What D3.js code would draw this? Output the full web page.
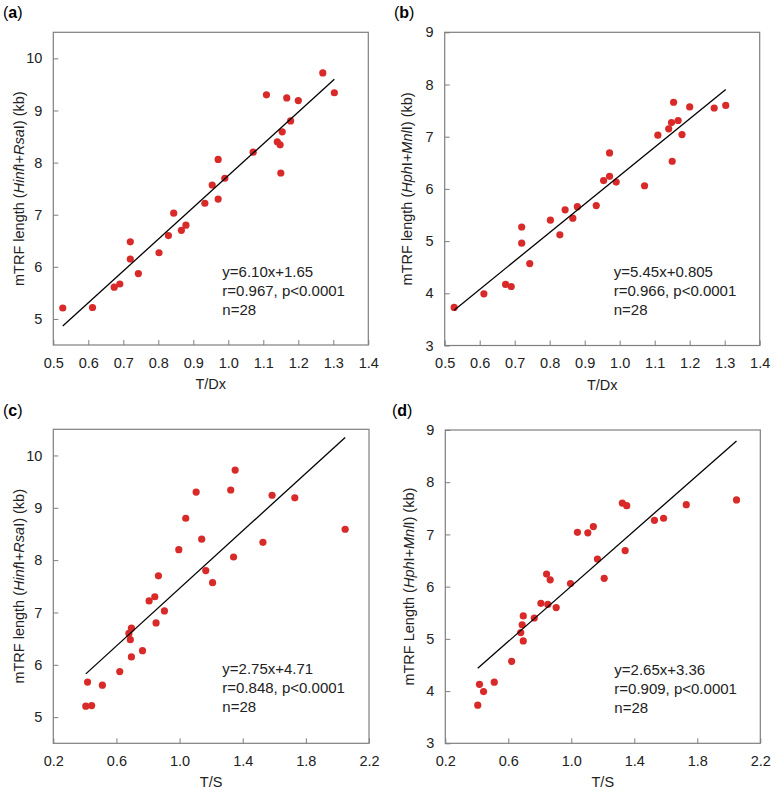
<!DOCTYPE html>
<html>
<head>
<meta charset="utf-8">
<script src="https://cdn.jsdelivr.net/npm/d3@7"></script>
<style>
  html, body { margin: 0; padding: 0; background: #fff; }
  svg { display: block; font-family: Arial, "Liberation Sans", sans-serif; }
</style>
</head>
<body>
<svg id="chart" width="776" height="794"></svg>
<script>
// ---- data (28 samples) ----
const tdRatio = [0.527, 0.612, 0.674, 0.690, 0.720, 0.720, 0.743, 0.802, 0.829, 0.844, 0.866, 0.879, 0.933, 0.954,
                 0.971, 0.971, 0.990, 1.071, 1.109, 1.140, 1.148, 1.150, 1.154, 1.167, 1.178, 1.200, 1.270, 1.303];
const tsRatio = [0.406, 0.443, 0.511, 0.417, 0.695, 0.688, 0.621, 0.765, 0.679, 0.904, 0.695, 0.851, 0.807, 1.209,
                 0.843, 1.342, 0.866, 0.995, 1.105, 1.140, 1.528, 1.166, 2.049, 1.586, 1.039, 1.730, 1.352, 1.324];
const hinfRsa  = [5.21, 5.22, 5.61, 5.67, 6.15, 6.48, 5.87, 6.27, 6.60, 7.03, 6.70, 6.80, 7.22, 7.57,
                  7.30, 8.06, 7.70, 8.20, 9.30, 8.40, 8.34, 7.80, 8.59, 9.24, 8.80, 9.19, 9.72, 9.34];
const hphMnl   = [3.73, 3.99, 4.17, 4.13, 4.96, 5.27, 4.57, 5.40, 5.12, 5.60, 5.44, 5.66, 5.68, 6.16,
                  6.24, 6.69, 6.13, 6.06, 7.03, 7.15, 7.27, 6.53, 7.66, 7.31, 7.04, 7.57, 7.55, 7.60];

const ticksTD = [0.5, 0.6, 0.7, 0.8, 0.9, 1.0, 1.1, 1.2, 1.3, 1.4];
const ticksTS = [0.2, 0.6, 1.0, 1.4, 1.8, 2.2];
const ticksHR = [5, 6, 7, 8, 9, 10];
const ticksHM = [3, 4, 5, 6, 7, 8, 9];

const panelLetters = ["a", "b", "c", "d"];
const fitSlopes     = [6.10, 5.45, 2.75, 2.65];
const fitIntercepts = [1.65, 0.805, 4.71, 3.36];
const fitText = [
  ["y=6.10x+1.65", "r=0.967, p<0.0001", "n=28"],
  ["y=5.45x+0.805", "r=0.966, p<0.0001", "n=28"],
  ["y=2.75x+4.71", "r=0.848, p<0.0001", "n=28"],
  ["y=2.65x+3.36", "r=0.909, p<0.0001", "n=28"]
];
const xTitles = ["T/Dx", "T/Dx", "T/S", "T/S"];
// y titles: [text, italic?] pieces
const yTitles = [
  [["mTRF length (", false], ["Hinf", true], ["I+", false], ["Rsa", true], ["I) (kb)", false]],
  [["mTRF length (", false], ["Hph", true], ["I+", false], ["Mnl", true], ["I) (kb)", false]],
  [["mTRF length (", false], ["Hinf", true], ["I+", false], ["Rsa", true], ["I) (kb)", false]],
  [["mTRF Length (", false], ["Hph", true], ["I+", false], ["Mnl", true], ["I) (kb)", false]]
];

// ---- layout ----
const panels = [
  { xs: tdRatio, ys: hinfRsa, xDom: [0.5, 1.4], yDom: [4.5, 10.5], xt: ticksTD, yt: ticksHR, fmt: d3.format(".1f"),
    left: 53.3, right: 368.3, top: 32.3, bottom: 345, titleX: 3, titleY: 18, yTitleX: 24 },
  { xs: tdRatio, ys: hphMnl, xDom: [0.5, 1.4], yDom: [3, 9], xt: ticksTD, yt: ticksHM, fmt: d3.format(".1f"),
    left: 444.7, right: 759.7, top: 32.3, bottom: 345.5, titleX: 394, titleY: 18, yTitleX: 412 },
  { xs: tsRatio, ys: hinfRsa, xDom: [0.2, 2.2], yDom: [4.5, 10.5], xt: ticksTS, yt: ticksHR, fmt: d3.format(".1f"),
    left: 53.3, right: 369, top: 429.3, bottom: 743.3, titleX: 3, titleY: 416, yTitleX: 24 },
  { xs: tsRatio, ys: hphMnl, xDom: [0.2, 2.2], yDom: [3, 9], xt: ticksTS, yt: ticksHM, fmt: d3.format(".1f"),
    left: 445.3, right: 760.3, top: 430, bottom: 743.3, titleX: 392, titleY: 416, yTitleX: 414 }
];

const svg = d3.select("#chart");
const frameColor = "#7f7f7f";
const textColor = "#222";
const dotColor = "#d92a2a";

panels.forEach((p, i) => {
  const x = d3.scaleLinear().domain(p.xDom).range([p.left, p.right]);
  const y = d3.scaleLinear().domain(p.yDom).range([p.bottom, p.top]);
  const g = svg.append("g");

  // frame
  g.append("rect")
    .attr("x", p.left).attr("y", p.top)
    .attr("width", p.right - p.left).attr("height", p.bottom - p.top)
    .attr("fill", "none").attr("stroke", frameColor).attr("stroke-width", 1.2);

  // x axis (inward ticks)
  const xa = g.append("g").attr("transform", `translate(0,${p.bottom})`)
    .call(d3.axisBottom(x).tickValues(p.xt).tickFormat(p.fmt).tickSizeInner(-5).tickSizeOuter(0).tickPadding(12.5));
  xa.select(".domain").remove();
  xa.selectAll("line").attr("stroke", frameColor);
  xa.selectAll("text").attr("fill", textColor).style("font-size", "14.5px");

  // y axis (inward ticks)
  const ya = g.append("g").attr("transform", `translate(${p.left},0)`)
    .call(d3.axisLeft(y).tickValues(p.yt).tickFormat(d3.format("d")).tickSizeInner(-5).tickSizeOuter(0).tickPadding(11));
  ya.select(".domain").remove();
  ya.selectAll("line").attr("stroke", frameColor);
  ya.selectAll("text").attr("fill", textColor).style("font-size", "14.5px");

  // points
  const pts = p.xs.map((v, k) => [v, p.ys[k]]);
  g.append("g").selectAll("circle").data(pts).join("circle")
    .attr("cx", d => x(d[0])).attr("cy", d => y(d[1]))
    .attr("r", 3.6).attr("fill", dotColor);

  // regression line over data range
  const [xmin, xmax] = d3.extent(p.xs);
  const f = v => fitSlopes[i] * v + fitIntercepts[i];
  g.append("path")
    .attr("d", d3.line()([[x(xmin), y(f(xmin))], [x(xmax), y(f(xmax))]]))
    .attr("stroke", "#000").attr("stroke-width", 1.3).attr("fill", "none");

  // annotation
  const ann = g.append("text").attr("fill", textColor).style("font-size", "15px");
  fitText[i].forEach((t, k) => {
    ann.append("tspan").attr("x", p.left + 169).attr("y", p.top + 244.5 + k * 19).text(t);
  });

  // x title
  g.append("text")
    .attr("x", (p.left + p.right) / 2).attr("y", p.bottom + 44)
    .attr("text-anchor", "middle").attr("fill", textColor).style("font-size", "14.5px")
    .text(xTitles[i]);

  // y title
  const yt = g.append("text")
    .attr("transform", `translate(${p.yTitleX},${(p.top + p.bottom) / 2}) rotate(-90)`)
    .attr("text-anchor", "middle").attr("fill", textColor).style("font-size", "14.5px");
  yTitles[i].forEach(([t, it]) => {
    yt.append("tspan").style("font-style", it ? "italic" : "normal").text(t);
  });

  // panel letter
  const pl = g.append("text").attr("x", p.titleX).attr("y", p.titleY).attr("fill", "#000").style("font-size", "16px");
  pl.append("tspan").text("(");
  pl.append("tspan").style("font-weight", "bold").text(panelLetters[i]);
  pl.append("tspan").text(")");
});
</script>
</body>
</html>
